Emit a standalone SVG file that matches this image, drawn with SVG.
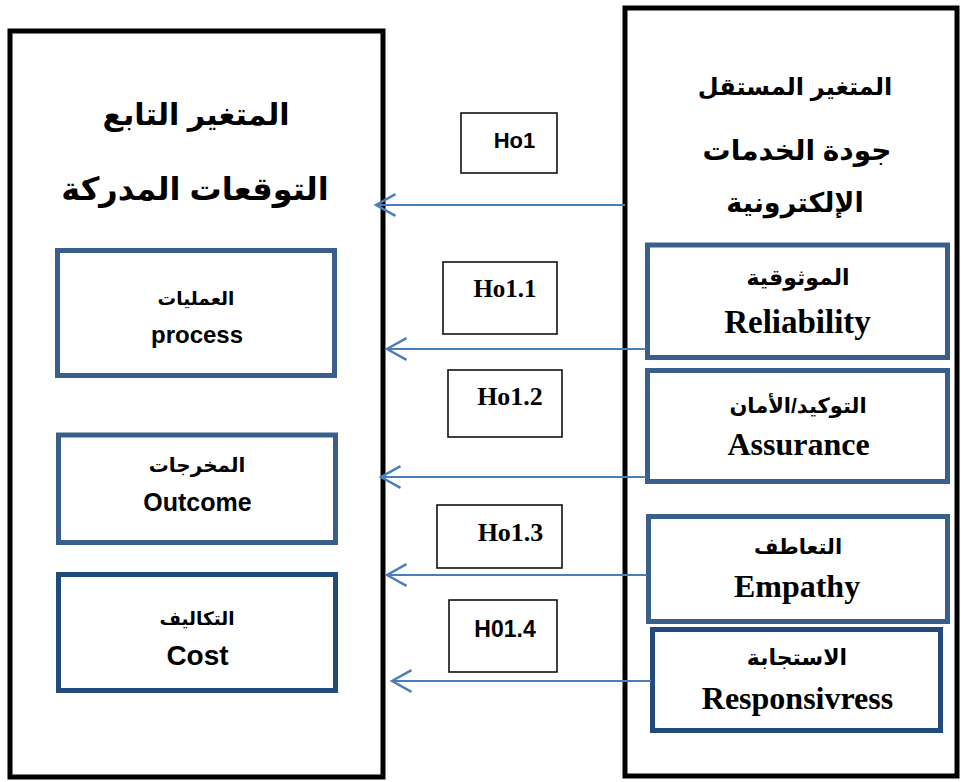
<svg xmlns="http://www.w3.org/2000/svg" width="961" height="782" viewBox="0 0 961 782">
<style>
.frame{fill:#fff;stroke:#000;stroke-width:5}
.dim{fill:#fff;stroke:#3A5F8B;stroke-width:5}
.dark{fill:#fff;stroke:#204A7C;stroke-width:5}
.hyp{fill:#fff;stroke:#111;stroke-width:1.6}
.ar{font-family:'Liberation Sans','DejaVu Sans',sans-serif;font-weight:bold;fill:#000;text-anchor:middle}
.sans{font-family:'Liberation Sans',Arial,sans-serif;font-weight:bold;fill:#000;text-anchor:middle}
.serif{font-family:'Liberation Serif','Times New Roman',serif;font-weight:bold;fill:#000;text-anchor:middle}
.conn{stroke:#4A7EBB;stroke-width:2.2;fill:none;marker-end:url(#arr)}
</style>
<defs>
<marker id="arr" markerUnits="userSpaceOnUse" orient="auto" markerWidth="24" markerHeight="26" refX="0" refY="0" viewBox="-20 -12 22 24" overflow="visible">
<path d="M-18,-10 L0,0 L-18,10" fill="none" stroke="#4A7EBB" stroke-width="2.2"/>
</marker>
</defs>
<rect width="961" height="782" fill="#fff"/>
<g id="dependent">
<rect class="frame" x="10" y="31" width="373" height="746"/>
<text class="ar" x="196" y="125" font-size="30">المتغير التابع</text>
<text class="ar" x="195" y="200" font-size="32">التوقعات المدركة</text>
</g>
<g id="independent">
<rect class="frame" x="625" y="8" width="332" height="768"/>
<text class="ar" x="795" y="95" font-size="24">المتغير المستقل</text>
<text class="ar" x="797" y="160" font-size="28">جودة الخدمات</text>
<text class="ar" x="795" y="212" font-size="27">الإلكترونية</text>
</g>
<g id="process">
<rect class="dim" x="57.5" y="250.5" width="277" height="125"/>
<text class="ar" x="196" y="305" font-size="18.5">العمليات</text>
<text class="sans" x="197" y="343" font-size="24">process</text>
</g>
<g id="outcome">
<rect class="dim" x="58.5" y="435" width="277" height="107.5"/>
<text class="ar" x="197" y="472" font-size="20">المخرجات</text>
<text class="sans" x="197.5" y="511" font-size="25">Outcome</text>
</g>
<g id="cost">
<rect class="dark" x="58.5" y="574.5" width="277" height="116"/>
<text class="ar" x="197" y="625" font-size="18.5">التكاليف</text>
<text class="sans" x="197.5" y="665" font-size="28">Cost</text>
</g>
<g id="reliability">
<rect class="dim" x="647.5" y="245" width="300" height="112.5"/>
<text class="ar" x="798" y="285" font-size="22">الموثوقية</text>
<text class="serif" x="797.5" y="333" font-size="33">Reliability</text>
</g>
<g id="assurance">
<rect class="dim" x="647.5" y="370.5" width="300" height="111"/>
<text class="ar" x="798" y="413" font-size="21">التوكيد/الأمان</text>
<text class="serif" x="798.5" y="455" font-size="32">Assurance</text>
</g>
<g id="empathy">
<rect class="dim" x="648.5" y="516.5" width="299" height="105"/>
<text class="ar" x="798" y="554" font-size="21">التعاطف</text>
<text class="serif" x="797" y="597" font-size="32">Empathy</text>
</g>
<g id="responsiveness">
<rect class="dark" x="652.5" y="629.5" width="288" height="101"/>
<text class="ar" x="797" y="665" font-size="22">الاستجابة</text>
<text class="serif" x="797.5" y="709" font-size="32">Responsivress</text>
</g>
<g id="ho1">
<rect class="hyp" x="461" y="113" width="96" height="60"/>
<text class="sans" x="514.5" y="148" font-size="22">Ho1</text>
</g>
<g id="ho1-1">
<rect class="hyp" x="443" y="262" width="114" height="72"/>
<text class="serif" x="505" y="297" font-size="25">Ho1.1</text>
</g>
<g id="ho1-2">
<rect class="hyp" x="448" y="370" width="114" height="67"/>
<text class="serif" x="510" y="405" font-size="26">Ho1.2</text>
</g>
<g id="ho1-3">
<rect class="hyp" x="437" y="505" width="125" height="63"/>
<text class="serif" x="510.5" y="541" font-size="26">Ho1.3</text>
</g>
<g id="h01-4">
<rect class="hyp" x="449" y="600" width="108" height="72"/>
<text class="sans" x="505" y="637" font-size="23">H01.4</text>
</g>
<g id="connectors">
<line class="conn" x1="625" y1="205" x2="376" y2="205"/>
<line class="conn" x1="646" y1="349" x2="387" y2="349"/>
<line class="conn" x1="646" y1="477" x2="381" y2="477"/>
<line class="conn" x1="647" y1="575" x2="387" y2="575"/>
<line class="conn" x1="651" y1="681" x2="392" y2="681"/>
</g>
</svg>
